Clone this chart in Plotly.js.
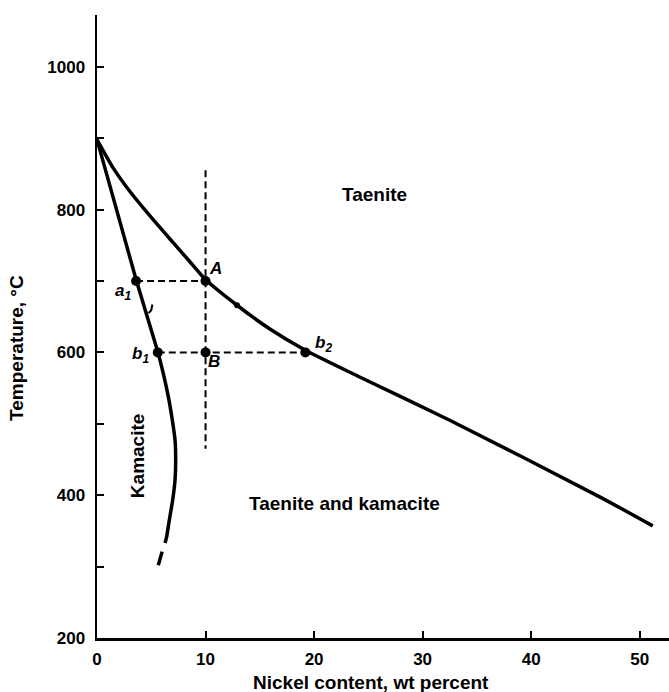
<!DOCTYPE html>
<html>
<head>
<meta charset="utf-8">
<script src="https://cdn.plot.ly/plotly-3.0.1.min.js"></script>
<style>html,body{margin:0;padding:0;background:#fff;}#chart{width:669px;height:692px;}</style>
</head>
<body>
<div id="chart"></div>
<script>
// Taenite solvus (upper boundary)
const taeniteX = [0, 1.5, 3.0, 5.0, 7.0, 8.5, 10, 12.9, 16.0, 19.2, 24.0, 32.5, 46.4, 51.2];
const taeniteY = [898, 858, 826, 789, 754, 728, 702, 666, 632, 603, 567, 505, 397, 357];
// Kamacite solvus (left boundary)
const kamaciteX = [0, 3.6, 5.6, 6.1, 6.57, 6.94, 7.19, 7.25, 7.19, 6.97, 6.66, 6.42, 6.27];
const kamaciteY = [898, 702, 601, 571, 538, 505, 477, 449, 421, 393, 365, 342, 333];
// extrapolated dash at the bottom of the kamacite curve
const kamaciteDashX = [6.0, 5.65];
const kamaciteDashY = [321, 302];
// guide lines
const vertGuideX = [10, 10];
const vertGuideY = [855, 465];
const tie700X = [3.6, 10];
const tie700Y = [700, 700];
const tie600X = [5.6, 19.2];
const tie600Y = [600, 600];
// labelled points
const pointNames = ["a1", "A", "b1", "B", "b2"];
const pointX = [3.6, 10, 5.6, 10, 19.2];
const pointY = [700, 700, 600, 600, 600];
// small marks on the curves
const markX = [12.9];
const markY = [666];
const hookX = [4.75, 5.0, 5.1];
const hookY = [655, 659, 667];
// axis ticks
const yTickVals = [200, 300, 400, 500, 600, 700, 800, 900, 1000];
const yTickText = ["200", "", "400", "", "600", "", "800", "", "1000"];
const xTickVals = [0, 10, 20, 30, 40, 50];
const xTickText = ["0", "10", "20", "30", "40", "50"];
const xTitle = "Nickel content, wt percent";
const yTitle = "Temperature, °C";

const FONT = "Liberation Sans, Arial, Helvetica, sans-serif";
const solid = {color: "#000", width: 3.5};
const dashed = {color: "#000", width: 2, dash: "7px,4px"};

const traces = [
  {x: taeniteX, y: taeniteY, mode: "lines", line: Object.assign({shape: "spline", smoothing: 0.6}, solid), name: "Taenite boundary"},
  {x: kamaciteX, y: kamaciteY, mode: "lines", line: Object.assign({shape: "spline", smoothing: 0.5}, solid), name: "Kamacite boundary"},
  {x: kamaciteDashX, y: kamaciteDashY, mode: "lines", line: solid, name: "extrapolation"},
  {x: vertGuideX, y: vertGuideY, mode: "lines", line: dashed, name: "10 wt%"},
  {x: tie700X, y: tie700Y, mode: "lines", line: dashed, name: "700 °C"},
  {x: tie600X, y: tie600Y, mode: "lines", line: dashed, name: "600 °C"},
  {x: pointX, y: pointY, text: pointNames, mode: "markers", marker: {color: "#000", size: 10}, name: "points"},
  {x: markX, y: markY, mode: "markers", marker: {color: "#000", size: 6}, name: "mark"},
  {x: hookX, y: hookY, mode: "lines", line: {color: "#000", width: 2}, name: "hook"}
];

const italic = {family: FONT, size: 17, color: "#000", weight: "bold", style: "italic"};
const labelFont = {family: FONT, size: 19, color: "#000", weight: "bold"};

const layout = {
  width: 669, height: 692,
  margin: {l: 97, r: 0, t: 15, b: 54},
  paper_bgcolor: "#fff", plot_bgcolor: "#fff",
  showlegend: false,
  font: {family: FONT, color: "#000"},
  xaxis: {
    range: [0, 52.7], showgrid: false, zeroline: false,
    showline: true, linecolor: "#000", linewidth: 2.5,
    ticks: "inside", ticklen: 7, tickwidth: 2, tickcolor: "#000",
    tickvals: xTickVals, ticktext: xTickText,
    tickfont: {family: FONT, size: 17, color: "#000", weight: "bold"},
    ticklabelstandoff: 4
  },
  yaxis: {
    range: [200, 1072.5], showgrid: false, zeroline: false,
    showline: true, linecolor: "#000", linewidth: 2.5,
    ticks: "inside", ticklen: 7, tickwidth: 2, tickcolor: "#000",
    tickvals: yTickVals, ticktext: yTickText,
    tickfont: {family: FONT, size: 17, color: "#000", weight: "bold"},
    ticklabelstandoff: 6
  },
  annotations: [
    {xref: "paper", yref: "paper", x: 0.479, y: -0.072, xanchor: "center", yanchor: "middle", text: xTitle, showarrow: false, font: labelFont},
    {xref: "paper", yref: "paper", x: -0.14, y: 0.4655, xanchor: "center", yanchor: "middle", text: yTitle, textangle: -90, showarrow: false, font: labelFont},
    {x: 2.4, y: 685, text: "a<sub>1</sub>", showarrow: false, font: italic},
    {x: 10.9, y: 718, text: "A", showarrow: false, font: italic},
    {x: 4.0, y: 596, text: "b<sub>1</sub>", showarrow: false, font: italic},
    {x: 10.8, y: 587, text: "B", showarrow: false, font: italic},
    {x: 20.9, y: 612, text: "b<sub>2</sub>", showarrow: false, font: italic},
    {x: 25.6, y: 821, text: "Taenite", showarrow: false, font: labelFont},
    {x: 22.8, y: 388, text: "Taenite and kamacite", showarrow: false, font: labelFont},
    {x: 3.8, y: 455, text: "Kamacite", showarrow: false, textangle: -90, font: labelFont}
  ]
};

Plotly.newPlot("chart", traces, layout, {staticPlot: true, displayModeBar: false});
</script>
</body>
</html>
